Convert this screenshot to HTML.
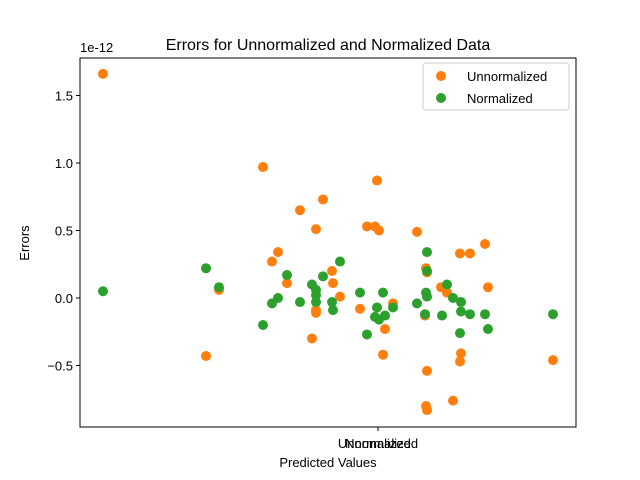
<!DOCTYPE html>
<html><head><meta charset="utf-8"><style>body{margin:0;background:#fff}svg{display:block;font-family:"Liberation Sans","DejaVu Sans",sans-serif}</style></head>
<body>
<svg id="c" width="640" height="480">
<rect x="0" y="0" width="640" height="480" fill="#fff"/>
<text x="328" y="50" font-size="16" text-anchor="middle">Errors for Unnormalized and Normalized Data</text>
<text x="80" y="52" font-size="13">1e-12</text>
<text x="29" y="243" font-size="13" text-anchor="middle" transform="rotate(-90 29 243)">Errors</text>
<text x="328" y="467" font-size="13" text-anchor="middle">Predicted Values</text>
<g id="marks"></g>
<g id="axes"></g>
<g>
<rect x="423" y="63" width="146" height="47" rx="3" fill="#fff" fill-opacity="0.8" stroke="#ccc"/>
<circle cx="441" cy="76" r="5" fill="#ff7f0e"/>
<text x="467" y="81" font-size="13">Unnormalized</text>
<circle cx="441" cy="98" r="5" fill="#2ca02c"/>
<text x="467" y="103" font-size="13">Normalized</text>
</g>
</svg>
<script>
const yTicks=[-0.5,0.0,0.5,1.0,1.5];
const yTickLabels=["\u22120.5","0.0","0.5","1.0","1.5"];
const xTickLabels=["Unnormalized","Normalized"];
const xTickValue=378;
const unX=[103,206,219,263,272,278,287,300,312,316,316,316,323,332,333,340,360,367,375,377,379,383,385,393,417,425,426,427,427,426,427,441,447,453,460,461,460,470,485,488,553];
const unY=[1.66,-0.43,0.06,0.97,0.27,0.34,0.11,0.65,-0.30,0.51,-0.09,-0.11,0.73,0.20,0.11,0.01,-0.08,0.53,0.53,0.87,0.50,-0.42,-0.23,-0.04,0.49,-0.13,0.22,0.19,-0.54,-0.80,-0.83,0.08,0.04,-0.76,-0.47,-0.41,0.33,0.33,0.40,0.08,-0.46];
const noX=[103,206,219,263,272,278,287,300,312,316,316,316,323,332,333,340,360,367,375,377,379,383,385,393,417,425,426,427,427,427,442,447,453,460,461,461,470,485,488,553];
const noY=[0.05,0.22,0.08,-0.20,-0.04,0,0.17,-0.03,0.10,0.06,0.02,-0.03,0.16,-0.03,-0.09,0.27,0.04,-0.27,-0.14,-0.07,-0.16,0.04,-0.13,-0.07,-0.04,-0.12,0.04,0.34,0.20,0.01,-0.13,0.10,0,-0.26,-0.10,-0.03,-0.12,-0.12,-0.23,-0.12];
const NS='http://www.w3.org/2000/svg';
const L=80,R=576,T=58,B=427;
function xs(v){return L+(v-80)/(576-80)*(R-L);}
function ys(v){return 298-v*135;}
function mk(t,a,p){const e=document.createElementNS(NS,t);for(const k in a)e.setAttribute(k,a[k]);p.appendChild(e);return e;}
const marks=document.getElementById('marks');
unX.forEach((x,i)=>{const c=mk('circle',{cx:xs(x),cy:ys(unY[i]),r:5,fill:'#ff7f0e'},marks);

});
noX.forEach((x,i)=>{const c=mk('circle',{cx:xs(x),cy:ys(noY[i]),r:5,fill:'#2ca02c'},marks);

});
const ax=document.getElementById('axes');
const f=mk('rect',{x:L,y:T,width:R-L,height:B-T,fill:'none',stroke:'#000','stroke-width':1},ax);


yTicks.forEach((v,i)=>{const y=ys(v);mk('line',{x1:L-4,x2:L,y1:y,y2:y,stroke:'#000'},ax);
const t=mk('text',{x:L-7,y:y+5,'font-size':13,'text-anchor':'end'},ax);t.textContent=yTickLabels[i];

});
const xp=xs(xTickValue);
mk('line',{x1:xp,x2:xp,y1:B,y2:B+4,stroke:'#000'},ax);
xTickLabels.forEach(s=>{const t=mk('text',{x:xp,y:B+21,'font-size':13,'text-anchor':'middle'},ax);t.textContent=s;

});
</script>
</body></html>
